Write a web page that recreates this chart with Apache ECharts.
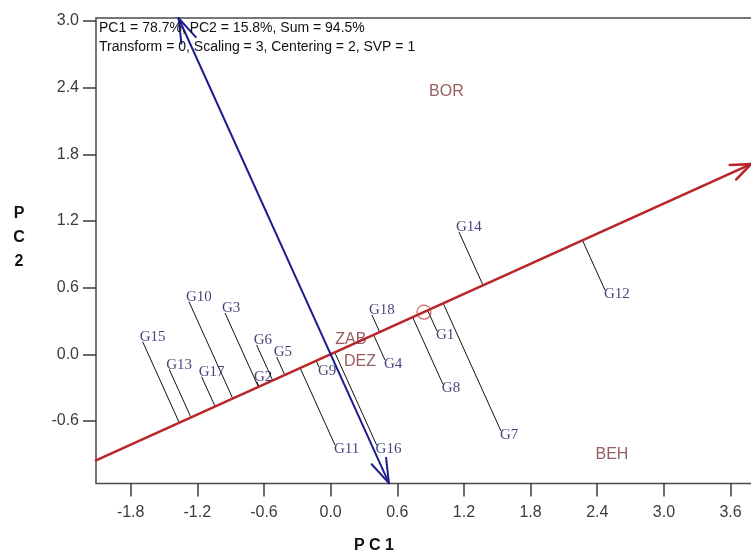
<!DOCTYPE html>
<html>
<head>
<meta charset="utf-8">
<script src="https://cdn.jsdelivr.net/npm/echarts@6/dist/echarts.min.js"></script>
<style>
html,body{margin:0;padding:0;background:#fff;}
#chart{width:751px;height:556px;}
</style>
</head>
<body>
<div id="chart"></div>
<script>
// ---- data (biplot coordinates) ----
const genotypes = ['G1','G2','G3','G4','G5','G6','G7','G8','G9','G10','G11','G12','G13','G14','G15','G16','G17','G18'];
const genoPC1 = [0.957,-0.663,-0.951,0.489,-0.486,-0.666,1.533,1.010,-0.105,-1.275,0.039,2.469,-1.453,1.155,-1.692,0.414,-1.161,0.372];
const genoPC2 = [0.210,-0.249,0.372,-0.051,-0.024,0.084,-0.690,-0.267,-0.114,0.473,-0.816,0.579,-0.135,1.101,0.113,-0.816,-0.202,0.354];

const environments = ['BOR','ZAB','DEZ','BEH'];
const envPC1 = [1.042,0.182,0.264,2.532];
const envPC2 = [2.365,0.129,-0.069,-0.907];

const avgEnv = [0.84,0.38];          // average environment (small circle)
const aecExtentPC1 = [-2.112,3.783]; // extent of the AEC abscissa (red)
const atcExtentPC2 = [3.025,-1.16];  // extent of the AEC ordinate (blue)

const xTicks = [-1.8,-1.2,-0.6,0.0,0.6,1.2,1.8,2.4,3.0,3.6];
const yTicks = [-0.6,0.0,0.6,1.2,1.8,2.4,3.0];
const xRange = [-2.112,3.874];
const yRange = [-1.163,3.027];

const headerLines = ['PC1 = 78.7%, PC2 = 15.8%, Sum = 94.5%','Transform = 0, Scaling = 3, Centering = 2, SVP = 1'];
const xName = 'P C 1';
const yName = 'P\nC\n2';

// ---- geometry derived from the data ----
const norm = Math.hypot(avgEnv[0], avgEnv[1]);
const ux = avgEnv[0]/norm, uy = avgEnv[1]/norm;

const redStart = [aecExtentPC1[0], aecExtentPC1[0]*uy/ux];
const redEnd = [aecExtentPC1[1], aecExtentPC1[1]*uy/ux];
const blueTop = [-atcExtentPC2[0]*uy/ux, atcExtentPC2[0]];
const blueBottom = [-atcExtentPC2[1]*uy/ux, atcExtentPC2[1]];

function barbs(tip, from, len, angDeg){
  const dx = tip[0]-from[0], dy = tip[1]-from[1];
  const d = Math.hypot(dx,dy);
  const bx = -dx/d, by = -dy/d;
  const a = angDeg*Math.PI/180;
  const out = [];
  [a,-a].forEach(t=>{
    const rx = bx*Math.cos(t)-by*Math.sin(t);
    const ry = bx*Math.sin(t)+by*Math.cos(t);
    out.push({coords:[tip,[tip[0]+len*rx, tip[1]+len*ry]]});
  });
  return out;
}

const projData = genotypes.map((g,i)=>{
  const p = genoPC1[i]*ux + genoPC2[i]*uy;
  return {coords:[[genoPC1[i],genoPC2[i]],[p*ux,p*uy]]};
});

const redData = [{coords:[redStart, redEnd]}].concat(barbs(redEnd, redStart, 0.19, 22));
const blueData = [{coords:[blueTop, blueBottom]}]
  .concat(barbs(blueTop, blueBottom, 0.23, 18))
  .concat(barbs(blueBottom, blueTop, 0.23, 18));

const genoData = genotypes.map((g,i)=>{
  const side = genoPC2[i]*ux - genoPC1[i]*uy; // >0 : above the abscissa
  const above = side > 0;
  return {
    name: g,
    value: [genoPC1[i], genoPC2[i]],
    label: above ? {position:[-3,3], align:'left', verticalAlign:'bottom'}
                 : {position:[-1,-3], align:'left', verticalAlign:'top'}
  };
});

const envData = environments.map((e,i)=>({name:e, value:[envPC1[i], envPC2[i]]}));

const chart = echarts.init(document.getElementById('chart'), null, {renderer:'canvas'});
chart.setOption({
  animation:false,
  backgroundColor:'#fff',
  grid:{left:96, width:665, top:18, height:465.5, containLabel:false, outerBoundsMode:'none',
        show:true, borderColor:'#4a4a4a', borderWidth:1.5, backgroundColor:'transparent'},
  xAxis:{
    type:'value', min:xRange[0], max:xRange[1],
    axisLine:{show:false, onZero:false},
    splitLine:{show:false},
    axisTick:{show:true, length:13, customValues:xTicks, lineStyle:{color:'#3a3a3a', width:1.5}},
    axisLabel:{customValues:xTicks, formatter:v=>v.toFixed(1), margin:21, fontSize:16, color:'#3c3c3c', fontFamily:'"Liberation Sans", Arial, sans-serif'}
  },
  yAxis:{
    type:'value', min:yRange[0], max:yRange[1],
    axisLine:{show:false, onZero:false},
    splitLine:{show:false},
    axisTick:{show:true, length:13, customValues:yTicks, lineStyle:{color:'#3a3a3a', width:1.5}},
    axisLabel:{customValues:yTicks, formatter:v=>v.toFixed(1), margin:17, fontSize:16, color:'#3c3c3c', fontFamily:'"Liberation Sans", Arial, sans-serif'}
  },
  graphic:[
    {type:'text', left:99, top:19, z:10, style:{text:headerLines.join('\n'), font:'14px "Liberation Sans", Arial, sans-serif', lineHeight:19, fill:'#111'}},
    {type:'text', x:374, y:546, z:10, style:{text:xName, font:'bold 16px "Liberation Sans", Arial, sans-serif', fill:'#111', align:'center', verticalAlign:'middle'}},
    {type:'text', x:19, y:238, z:10, style:{text:yName, font:'bold 16px "Liberation Sans", Arial, sans-serif', lineHeight:24, fill:'#111', align:'center', verticalAlign:'middle'}}
  ],
  series:[
    {type:'lines', coordinateSystem:'cartesian2d', z:2, silent:true, data:projData,
     lineStyle:{color:'#111', width:1, opacity:1}},
    {type:'lines', coordinateSystem:'cartesian2d', z:3, silent:true, data:redData,
     lineStyle:{color:'#bb262b', width:2.6, opacity:1, cap:'round'}},
    {type:'lines', coordinateSystem:'cartesian2d', z:4, silent:true, data:blueData,
     lineStyle:{color:'#1d1d8e', width:2, opacity:1, cap:'round'}},
    {type:'scatter', z:5, silent:true, data:[avgEnv], symbol:'circle', symbolSize:14,
     itemStyle:{color:'transparent', borderColor:'#c0403f', borderWidth:1.2}},
    {type:'scatter', z:6, silent:true, data:genoData, symbolSize:0,
     label:{show:true, formatter:'{b}', fontSize:15, color:'#141458', fontFamily:'"Liberation Serif", "Times New Roman", serif'}},
    {type:'scatter', z:6, silent:true, data:envData, symbolSize:0,
     label:{show:true, position:'inside', formatter:'{b}', fontSize:16, color:'#7e3436', fontFamily:'"Liberation Sans", Arial, sans-serif'}}
  ]
});
</script>
</body>
</html>
